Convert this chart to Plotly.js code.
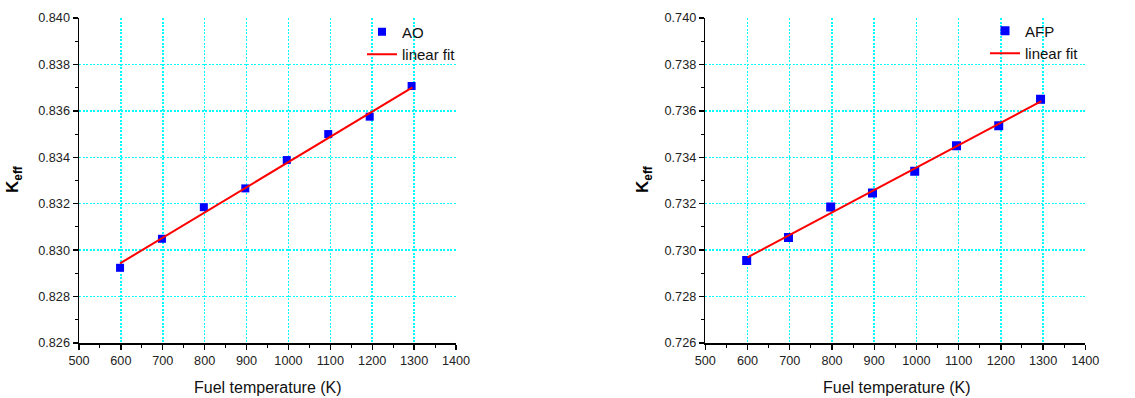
<!DOCTYPE html>
<html>
<head>
<meta charset="utf-8">
<script src="https://cdn.plot.ly/plotly-3.0.1.min.js"></script>
<style>html,body{margin:0;padding:0;background:#fff;}#chart{width:1135px;height:398px;}</style>
</head>
<body>
<div id="chart"></div>
<script>
// Data
const aoTemp = [598, 698, 798, 897, 996, 1095, 1194, 1294];
const aoKeff = [0.82924, 0.83049, 0.83185, 0.83266, 0.83388, 0.83500, 0.83575, 0.83707];
const aoFitTemp = [598, 1296];
const aoFitKeff = [0.82943, 0.83701];

const afpTemp = [598, 697, 797, 896, 996, 1095, 1195, 1294];
const afpKeff = [0.72955, 0.73054, 0.73186, 0.73246, 0.73340, 0.73450, 0.73536, 0.73650];
const afpFitTemp = [600, 1296];
const afpFitKeff = [0.72969, 0.73642];

// Grid positions (interior ticks only)
const xGridVals = [600, 700, 800, 900, 1000, 1100, 1200, 1300];
const aoGridVals = [0.828, 0.830, 0.832, 0.834, 0.836, 0.838];
const afpGridVals = [0.728, 0.730, 0.732, 0.734, 0.736, 0.738];

const xTitle = 'Fuel temperature (K)';
const yTitle = '<b>K<sub>eff</sub></b>';

const W = 1135, H = 398;
const px = v => v / W;
const py = v => 1 - v / H;

const markerStyle = {symbol: 'square', size: 8, color: '#0000ff', line: {width: 0}};
const lineStyle = {color: '#ff0000', width: 2};

const traces = [
  {x: aoTemp, y: aoKeff, type: 'scatter', mode: 'markers', name: 'AO', marker: markerStyle, xaxis: 'x', yaxis: 'y', legend: 'legend'},
  {x: aoFitTemp, y: aoFitKeff, type: 'scatter', mode: 'lines', name: 'linear fit', line: lineStyle, xaxis: 'x', yaxis: 'y', legend: 'legend'},
  {x: afpTemp, y: afpKeff, type: 'scatter', mode: 'markers', name: 'AFP', marker: Object.assign({}, markerStyle, {size: 9}), xaxis: 'x2', yaxis: 'y2', legend: 'legend2'},
  {x: afpFitTemp, y: afpFitKeff, type: 'scatter', mode: 'lines', name: 'linear fit', line: lineStyle, xaxis: 'x2', yaxis: 'y2', legend: 'legend2'}
];

const tickFont = {family: 'Liberation Sans, Arial, sans-serif', size: 12.7, color: '#222'};
const gridStyle = {showgrid: true, gridcolor: '#00ffff', gridwidth: 1.5, griddash: '2px,1.5px'};
const xDomL = [px(79), px(456)];
const xDomR = [px(705.3), px(1085.3)];
const yDom = [py(343), py(18)];

function xAxis(domain, anchor) {
  return {
    domain: domain, anchor: anchor, range: [500, 1400], dtick: 100, tick0: 500,
    showline: true, linecolor: '#000', linewidth: 1.5, ticks: 'outside', ticklen: 5, tickwidth: 1.3, tickcolor: '#000',
    tickfont: tickFont, zeroline: false, automargin: false, fixedrange: true, showgrid: false,
    minor: {dtick: 50, ticks: 'outside', ticklen: 3, tickwidth: 1, tickcolor: '#000', showgrid: false}
  };
}
function yAxis(anchor, r0, r1) {
  return {
    domain: yDom, anchor: anchor, range: [r0, r1], dtick: 0.002, tick0: r0,
    tickformat: '.3f',
    showline: true, linecolor: '#000', linewidth: 1.5, ticks: 'outside', ticklen: 5, tickwidth: 1.3, tickcolor: '#000',
    tickfont: tickFont, zeroline: false, automargin: false, fixedrange: true, showgrid: false,
    minor: {dtick: 0.001, ticks: 'outside', ticklen: 3, tickwidth: 1, tickcolor: '#000', showgrid: false}
  };
}
function gridX(overlay, anchor, domain) {
  return Object.assign({overlaying: overlay, anchor: anchor, domain: domain, range: [500, 1400], tickmode: 'array', tickvals: xGridVals,
    showticklabels: false, ticks: '', showline: false, zeroline: false, fixedrange: true}, gridStyle);
}
function gridY(overlay, anchor, r0, r1, vals) {
  return Object.assign({overlaying: overlay, anchor: anchor, domain: yDom, range: [r0, r1], tickmode: 'array', tickvals: vals,
    showticklabels: false, ticks: '', showline: false, zeroline: false, fixedrange: true}, gridStyle);
}

const legendFont = {family: 'Liberation Sans, Arial, sans-serif', size: 15, color: '#111'};
const titleFont = {family: 'Liberation Sans, Arial, sans-serif', size: 16, color: '#111'};
const yTitleFont = {family: 'Liberation Sans, Arial, sans-serif', size: 17, color: '#000'};

// empty helper traces so the grid-only overlay axes get a subplot
traces.unshift(
  {x: [], y: [], type: 'scatter', mode: 'markers', xaxis: 'x3', yaxis: 'y3', showlegend: false, hoverinfo: 'skip'},
  {x: [], y: [], type: 'scatter', mode: 'markers', xaxis: 'x4', yaxis: 'y4', showlegend: false, hoverinfo: 'skip'}
);

const layout = {
  width: W, height: H,
  margin: {l: 0, r: 0, t: 0, b: 0},
  paper_bgcolor: '#fff', plot_bgcolor: '#fff',
  showlegend: true,
  xaxis: xAxis(xDomL, 'y'),
  yaxis: yAxis('x', 0.826, 0.840),
  xaxis2: xAxis(xDomR, 'y2'),
  yaxis2: yAxis('x2', 0.726, 0.740),
  xaxis3: gridX('x', 'y3', xDomL),
  yaxis3: gridY('y', 'x3', 0.826, 0.840, aoGridVals),
  xaxis4: gridX('x2', 'y4', xDomR),
  yaxis4: gridY('y2', 'x4', 0.726, 0.740, afpGridVals),
  legend: {x: px(362), y: py(15.5), xanchor: 'left', yanchor: 'top', bgcolor: 'rgba(0,0,0,0)', borderwidth: 0, font: legendFont, tracegroupgap: 0},
  legend2: {x: px(985), y: py(14.5), xanchor: 'left', yanchor: 'top', bgcolor: 'rgba(0,0,0,0)', borderwidth: 0, font: legendFont, tracegroupgap: 0},
  annotations: [
    {text: xTitle, xref: 'paper', yref: 'paper', x: px(268), y: py(387), xanchor: 'center', yanchor: 'middle', showarrow: false, font: titleFont},
    {text: xTitle, xref: 'paper', yref: 'paper', x: px(897), y: py(387), xanchor: 'center', yanchor: 'middle', showarrow: false, font: titleFont},
    {text: yTitle, xref: 'paper', yref: 'paper', x: px(14), y: py(180), xanchor: 'center', yanchor: 'middle', textangle: -90, showarrow: false, font: yTitleFont},
    {text: yTitle, xref: 'paper', yref: 'paper', x: px(644), y: py(180), xanchor: 'center', yanchor: 'middle', textangle: -90, showarrow: false, font: yTitleFont}
  ]
};

Plotly.newPlot('chart', traces, layout, {displayModeBar: false, staticPlot: true});
</script>
</body>
</html>
